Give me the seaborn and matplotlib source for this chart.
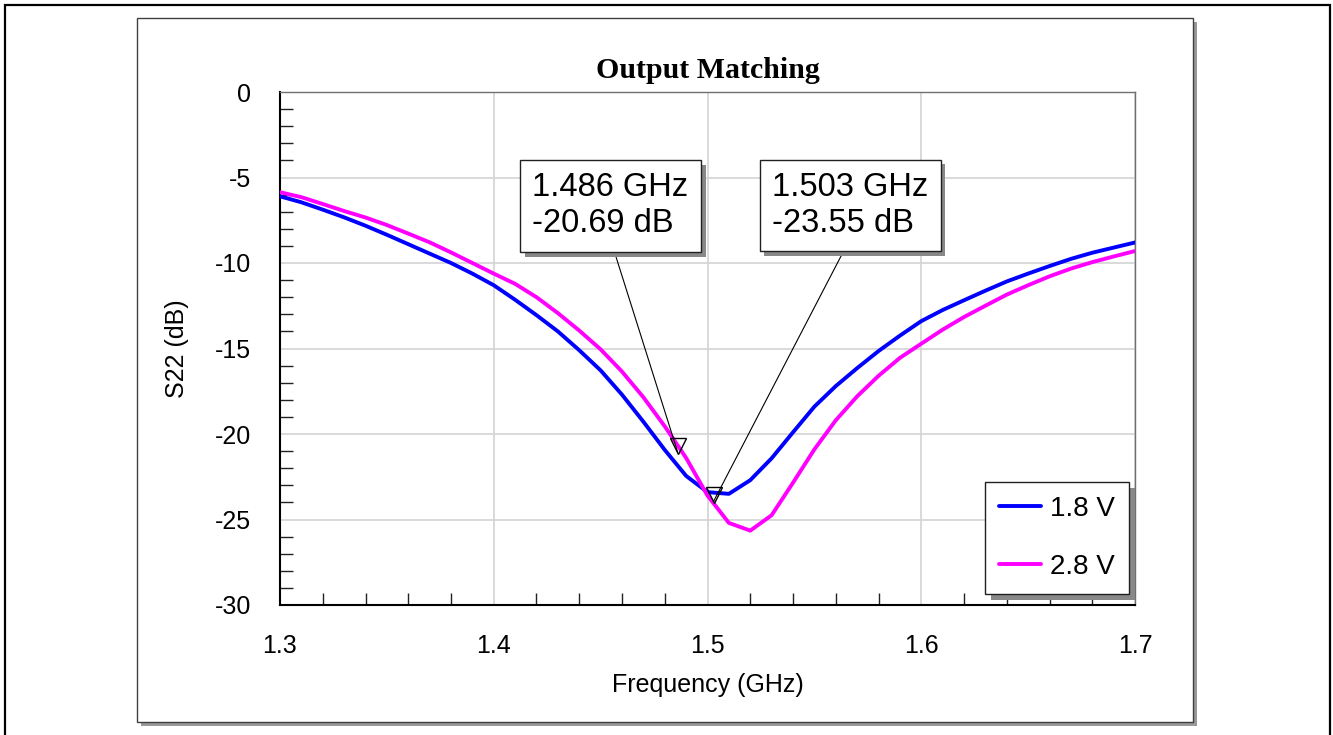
import numpy as np
import pandas as pd
import seaborn as sns
import matplotlib
matplotlib.use('Agg')
import matplotlib.pyplot as plt
from matplotlib.patches import Rectangle
from matplotlib.lines import Line2D
from matplotlib.ticker import MultipleLocator
from matplotlib import patheffects as pe
from matplotlib import transforms as mtransforms

# 频率 (GHz) 与 S22 (dB)
freq = [1.30, 1.31, 1.32, 1.33, 1.34, 1.35, 1.36, 1.37, 1.38, 1.39,
        1.40, 1.41, 1.42, 1.43, 1.44, 1.45, 1.46, 1.47, 1.48, 1.49,
        1.50, 1.51, 1.52, 1.53, 1.54, 1.55, 1.56, 1.57, 1.58, 1.59,
        1.60, 1.61, 1.62, 1.63, 1.64, 1.65, 1.66, 1.67, 1.68, 1.69, 1.70]

s22_18v = [-6.10, -6.45, -6.88, -7.33, -7.82, -8.35, -8.90, -9.45, -10.00, -10.62,
           -11.30, -12.15, -13.05, -14.00, -15.10, -16.28, -17.70, -19.28, -20.93, -22.45,
           -23.40, -23.50, -22.70, -21.42, -19.90, -18.40, -17.20, -16.15, -15.15, -14.25,
           -13.40, -12.75, -12.18, -11.62, -11.08, -10.62, -10.18, -9.76, -9.40, -9.10, -8.80]

s22_28v = [-5.86, -6.15, -6.55, -6.96, -7.34, -7.78, -8.28, -8.79, -9.38, -10.00,
           -10.62, -11.22, -12.00, -12.93, -13.95, -15.05, -16.35, -17.85, -19.55, -21.40,
           -23.60, -25.20, -25.65, -24.75, -22.85, -20.90, -19.20, -17.80, -16.60, -15.55,
           -14.72, -13.90, -13.16, -12.50, -11.85, -11.30, -10.78, -10.33, -9.95, -9.62, -9.30]

series_names = ['1.8 V', '2.8 V']
series_colors = {'1.8 V': '#0000ff', '2.8 V': '#ff00ff'}

# 标记点
marker_freq = [1.486, 1.503]
marker_db = [-20.69, -23.55]

x_ticks = [1.3, 1.4, 1.5, 1.6, 1.7]
y_ticks = [-30, -25, -20, -15, -10, -5, 0]

df = pd.DataFrame({
    'freq': freq * 2,
    's22': s22_18v + s22_28v,
    'Voltage': [series_names[0]] * len(freq) + [series_names[1]] * len(freq),
})

sns.set_theme(style='white')
plt.rcParams['font.family'] = ['Liberation Sans', 'DejaVu Sans']
plt.rcParams['axes.unicode_minus'] = False
plt.rcParams['text.color'] = 'black'
plt.rcParams['axes.labelcolor'] = 'black'
plt.rcParams['xtick.color'] = 'black'
plt.rcParams['ytick.color'] = 'black'

W, H = 1333, 735
fig = plt.figure(figsize=(W / 100, H / 100), dpi=100)
fig.patch.set_facecolor('white')

# 外框
fig.patches.append(Rectangle((5 / W, -0.05), 1325 / W, 1.05 - 5 / H,
                             transform=fig.transFigure, fill=False,
                             ec='black', lw=1.6, zorder=-3))
# 内部面板及阴影
fig.patches.append(Rectangle((141 / W, 1 - 726 / H), 1056 / W, 704 / H,
                             transform=fig.transFigure, fc='#999999',
                             ec='none', zorder=-2))
fig.patches.append(Rectangle((137 / W, 1 - 722 / H), 1056 / W, 704 / H,
                             transform=fig.transFigure, fc='white',
                             ec='#404040', lw=1, zorder=-1))

ax = fig.add_axes([280 / W, 1 - 605 / H, 855 / W, 513 / H])
ax.set_facecolor('white')

sns.lineplot(data=df, x='freq', y='s22', hue='Voltage', palette=series_colors,
             linewidth=2.8, legend=False, ax=ax, zorder=3)

ax.set_xlim(1.3, 1.7)
ax.set_ylim(-30, 0)
ax.set_xticks(x_ticks)
ax.set_xticklabels([f'{v:g}' for v in x_ticks])
ax.set_yticks(y_ticks)
ax.set_yticklabels([f'{v:g}' for v in y_ticks])
ax.xaxis.set_minor_locator(MultipleLocator(0.02))
ax.yaxis.set_minor_locator(MultipleLocator(1))
ax.tick_params(which='major', length=0, labelsize=18, labelcolor='black')
ax.tick_params(axis='x', which='major', pad=21)
ax.tick_params(axis='y', which='major', pad=21)
ax.tick_params(which='minor', direction='in', length=9, width=1, color='#222222',
               bottom=True, left=True, top=False, right=False)
ax.grid(True, which='major', color='#d3d3d3', lw=1.2)

for side in ['left', 'bottom']:
    ax.spines[side].set_color('black')
    ax.spines[side].set_linewidth(1.5)
for side in ['top', 'right']:
    ax.spines[side].set_color('#707070')
    ax.spines[side].set_linewidth(1)

ax.set_xlabel('Frequency (GHz)', fontsize=18, labelpad=11, color='black')
ax.set_ylabel('S22 (dB)', fontsize=18, labelpad=18, color='black')
ax.set_title('Output Matching', family=['Liberation Serif', 'DejaVu Serif'],
             fontweight='bold', fontsize=21.5, pad=10, color='black')

# 标记三角
ax.plot(marker_freq, marker_db, linestyle='none', marker='v', ms=11,
        mfc='none', mec='black', mew=1, zorder=5)

# 标注框
tip = mtransforms.offset_copy(ax.transData, fig=fig, x=0, y=-6, units='dots')
box_pos = [(0.3865, 0.778), (0.6667, 0.779)]
for f, db, pos in zip(marker_freq, marker_db, box_pos):
    ann = ax.annotate(f'{f:.3f} GHz\n{db:.2f} dB', xy=(f, db), xycoords=tip,
                      xytext=pos, textcoords='axes fraction',
                      ha='center', va='center', ma='left', fontsize=23.5,
                      color='black',
                      bbox=dict(boxstyle='square,pad=0.38', fc='white',
                                ec='#202020', lw=1),
                      arrowprops=dict(arrowstyle='-', color='black', lw=0.8,
                                      shrinkA=0, shrinkB=0, relpos=(0.5, 0)),
                      zorder=6)
    ann.get_bbox_patch().set_path_effects([
        pe.SimplePatchShadow(offset=(3.5, -3.5), shadow_rgbFace='#888888', alpha=1),
        pe.Normal()])

# 图例
handles = [Line2D([0], [0], color=series_colors[n], lw=2.8) for n in series_names]
leg = ax.legend(handles, series_names, loc='lower right',
                bbox_to_anchor=(0.993, 0.0214), borderaxespad=0,
                fontsize=20, handlelength=1.5, handletextpad=0.35,
                labelspacing=1.15, borderpad=0.5, fancybox=False,
                framealpha=1, edgecolor='#202020')
for t in leg.get_texts():
    t.set_color('black')
leg.get_frame().set_linewidth(1)
leg.get_frame().set_path_effects([
    pe.SimplePatchShadow(offset=(4, -4), shadow_rgbFace='#888888', alpha=1),
    pe.Normal()])
leg.set_zorder(7)

fig.savefig('out.png', dpi=100)
plt.close(fig)
